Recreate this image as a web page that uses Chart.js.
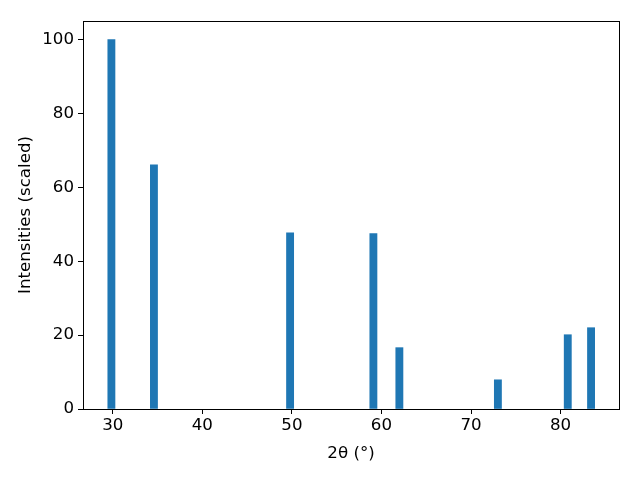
<!DOCTYPE html>
<html>
<head>
<meta charset="utf-8">
<script src="https://cdn.jsdelivr.net/npm/chart.js@4.4.0/dist/chart.umd.min.js"></script>
<style>
  html, body { margin: 0; padding: 0; background: #fff; }
  #wrap { width: 640px; height: 480px; }
</style>
</head>
<body>
<div id="wrap"><canvas id="chart" width="640" height="480"></canvas></div>
<script>
// データ（ピーク位置と強度）
const twoTheta = [29.85, 34.6, 49.8, 59.1, 62.0, 73.0, 80.8, 83.4];
const intensity = [100, 66.1, 47.7, 47.5, 16.6, 7.9, 20.1, 22.0];
const xTicks = [30, 40, 50, 60, 70, 80];
const yTicks = [0, 20, 40, 60, 80, 100];

const FONT = "'DejaVu Sans', sans-serif";
const FS = 16.67;

// 枠線（上・右も含めて）
const frame = {
  id: "frame",
  afterDraw(chart) {
    const { ctx, chartArea: a } = chart;
    ctx.save();
    ctx.strokeStyle = "#000";
    ctx.lineWidth = 1;
    ctx.strokeRect(Math.round(a.left) + 0.5, Math.round(a.top) + 0.5,
      Math.round(a.right - a.left), Math.round(a.bottom - a.top));
    ctx.restore();
  }
};

const ctx = document.getElementById("chart").getContext("2d");
new Chart(ctx, {
  type: "bar",
  data: {
    datasets: [{
      data: twoTheta.map((x, i) => ({ x, y: intensity[i] })),
      backgroundColor: "#1f77b4",
      borderWidth: 0,
      barThickness: 7.2
    }]
  },
  options: {
    responsive: false,
    animation: false,
    layout: { padding: { left: 0, top: 21, right: 21, bottom: 0 } },
    plugins: { legend: { display: false }, tooltip: { enabled: false } },
    scales: {
      x: {
        type: "linear",
        offset: false,
        min: 26.68,
        max: 86.52,
        afterBuildTicks: s => { s.ticks = xTicks.map(v => ({ value: v })); },
        afterFit: s => { s.height = 71; },
        grid: { display: true, offset: false, drawOnChartArea: false, drawTicks: true, tickLength: 5, color: "#000" },
        border: { display: true, color: "#000" },
        ticks: { color: "#000", font: { family: FONT, size: FS }, padding: 2, maxRotation: 0 },
        title: { display: true, text: "2θ (°)", color: "#000", font: { family: FONT, size: FS }, padding: { top: 4, bottom: 16 } }
      },
      y: {
        min: 0,
        max: 105,
        afterBuildTicks: s => { s.ticks = yTicks.map(v => ({ value: v })); },
        afterFit: s => { s.width = 83; },
        grid: { display: true, drawOnChartArea: false, drawTicks: true, tickLength: 5, color: "#000" },
        border: { display: true, color: "#000" },
        ticks: { color: "#000", font: { family: FONT, size: FS }, padding: 4 },
        title: { display: true, text: "Intensities (scaled)", color: "#000", font: { family: FONT, size: FS }, padding: { top: 16, bottom: 0 } }
      }
    }
  },
  plugins: [frame]
});
</script>
</body>
</html>
